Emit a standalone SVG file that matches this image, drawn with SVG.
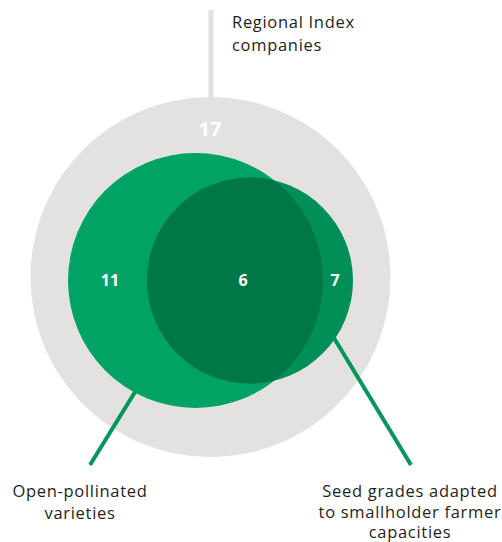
<svg xmlns="http://www.w3.org/2000/svg" width="502" height="542" viewBox="0 0 502 542">
<style>
.lbl{font-family:"Open Sans","Liberation Sans",sans-serif;font-size:16.5px;letter-spacing:0.7px;fill:#231f20}
.num{font-family:"Open Sans","Liberation Sans",sans-serif;font-weight:bold;fill:#ffffff;text-anchor:middle}
.conn{stroke:#00965a;stroke-width:4;fill:none}
</style>
<defs>
<clipPath id="bigClip"><circle cx="195.5" cy="280.5" r="127.5"/></clipPath>
</defs>
<g id="regional">
<circle cx="210.5" cy="277" r="180" fill="#e4e2e0"/>
<text class="lbl" x="232" y="28">Regional Index</text>
<text class="lbl" x="232" y="51">companies</text>
<text class="num" x="210" y="136" font-size="20">17</text>
</g>
<g id="open-pollinated">
<circle cx="195.5" cy="280.5" r="127.5" fill="#00a364"/>
<text class="lbl" x="80" y="497" text-anchor="middle">Open-pollinated</text>
<text class="lbl" x="80" y="519" text-anchor="middle">varieties</text>
<text class="num" x="110" y="286" font-size="16">11</text>
</g>
<g id="seed-grades">
<circle cx="250" cy="280.5" r="103" fill="#008f57"/>
<text class="lbl" x="410" y="497" text-anchor="middle">Seed grades adapted</text>
<text class="lbl" x="410" y="518" text-anchor="middle">to smallholder farmer</text>
<text class="lbl" x="410" y="538" text-anchor="middle">capacities</text>
<text class="num" x="335" y="286" font-size="16">7</text>
</g>
<g id="overlap">
<circle cx="250" cy="280.5" r="103" fill="#007747" clip-path="url(#bigClip)"/>
<text class="num" x="243" y="286" font-size="16">6</text>
</g>
<g id="connectors">
<line x1="211" y1="10" x2="211" y2="97" stroke="#e4e2e0" stroke-width="5"/>
<line class="conn" x1="135" y1="392" x2="90" y2="465"/>
<line class="conn" x1="334" y1="338" x2="411" y2="465"/>
</g>
</svg>
